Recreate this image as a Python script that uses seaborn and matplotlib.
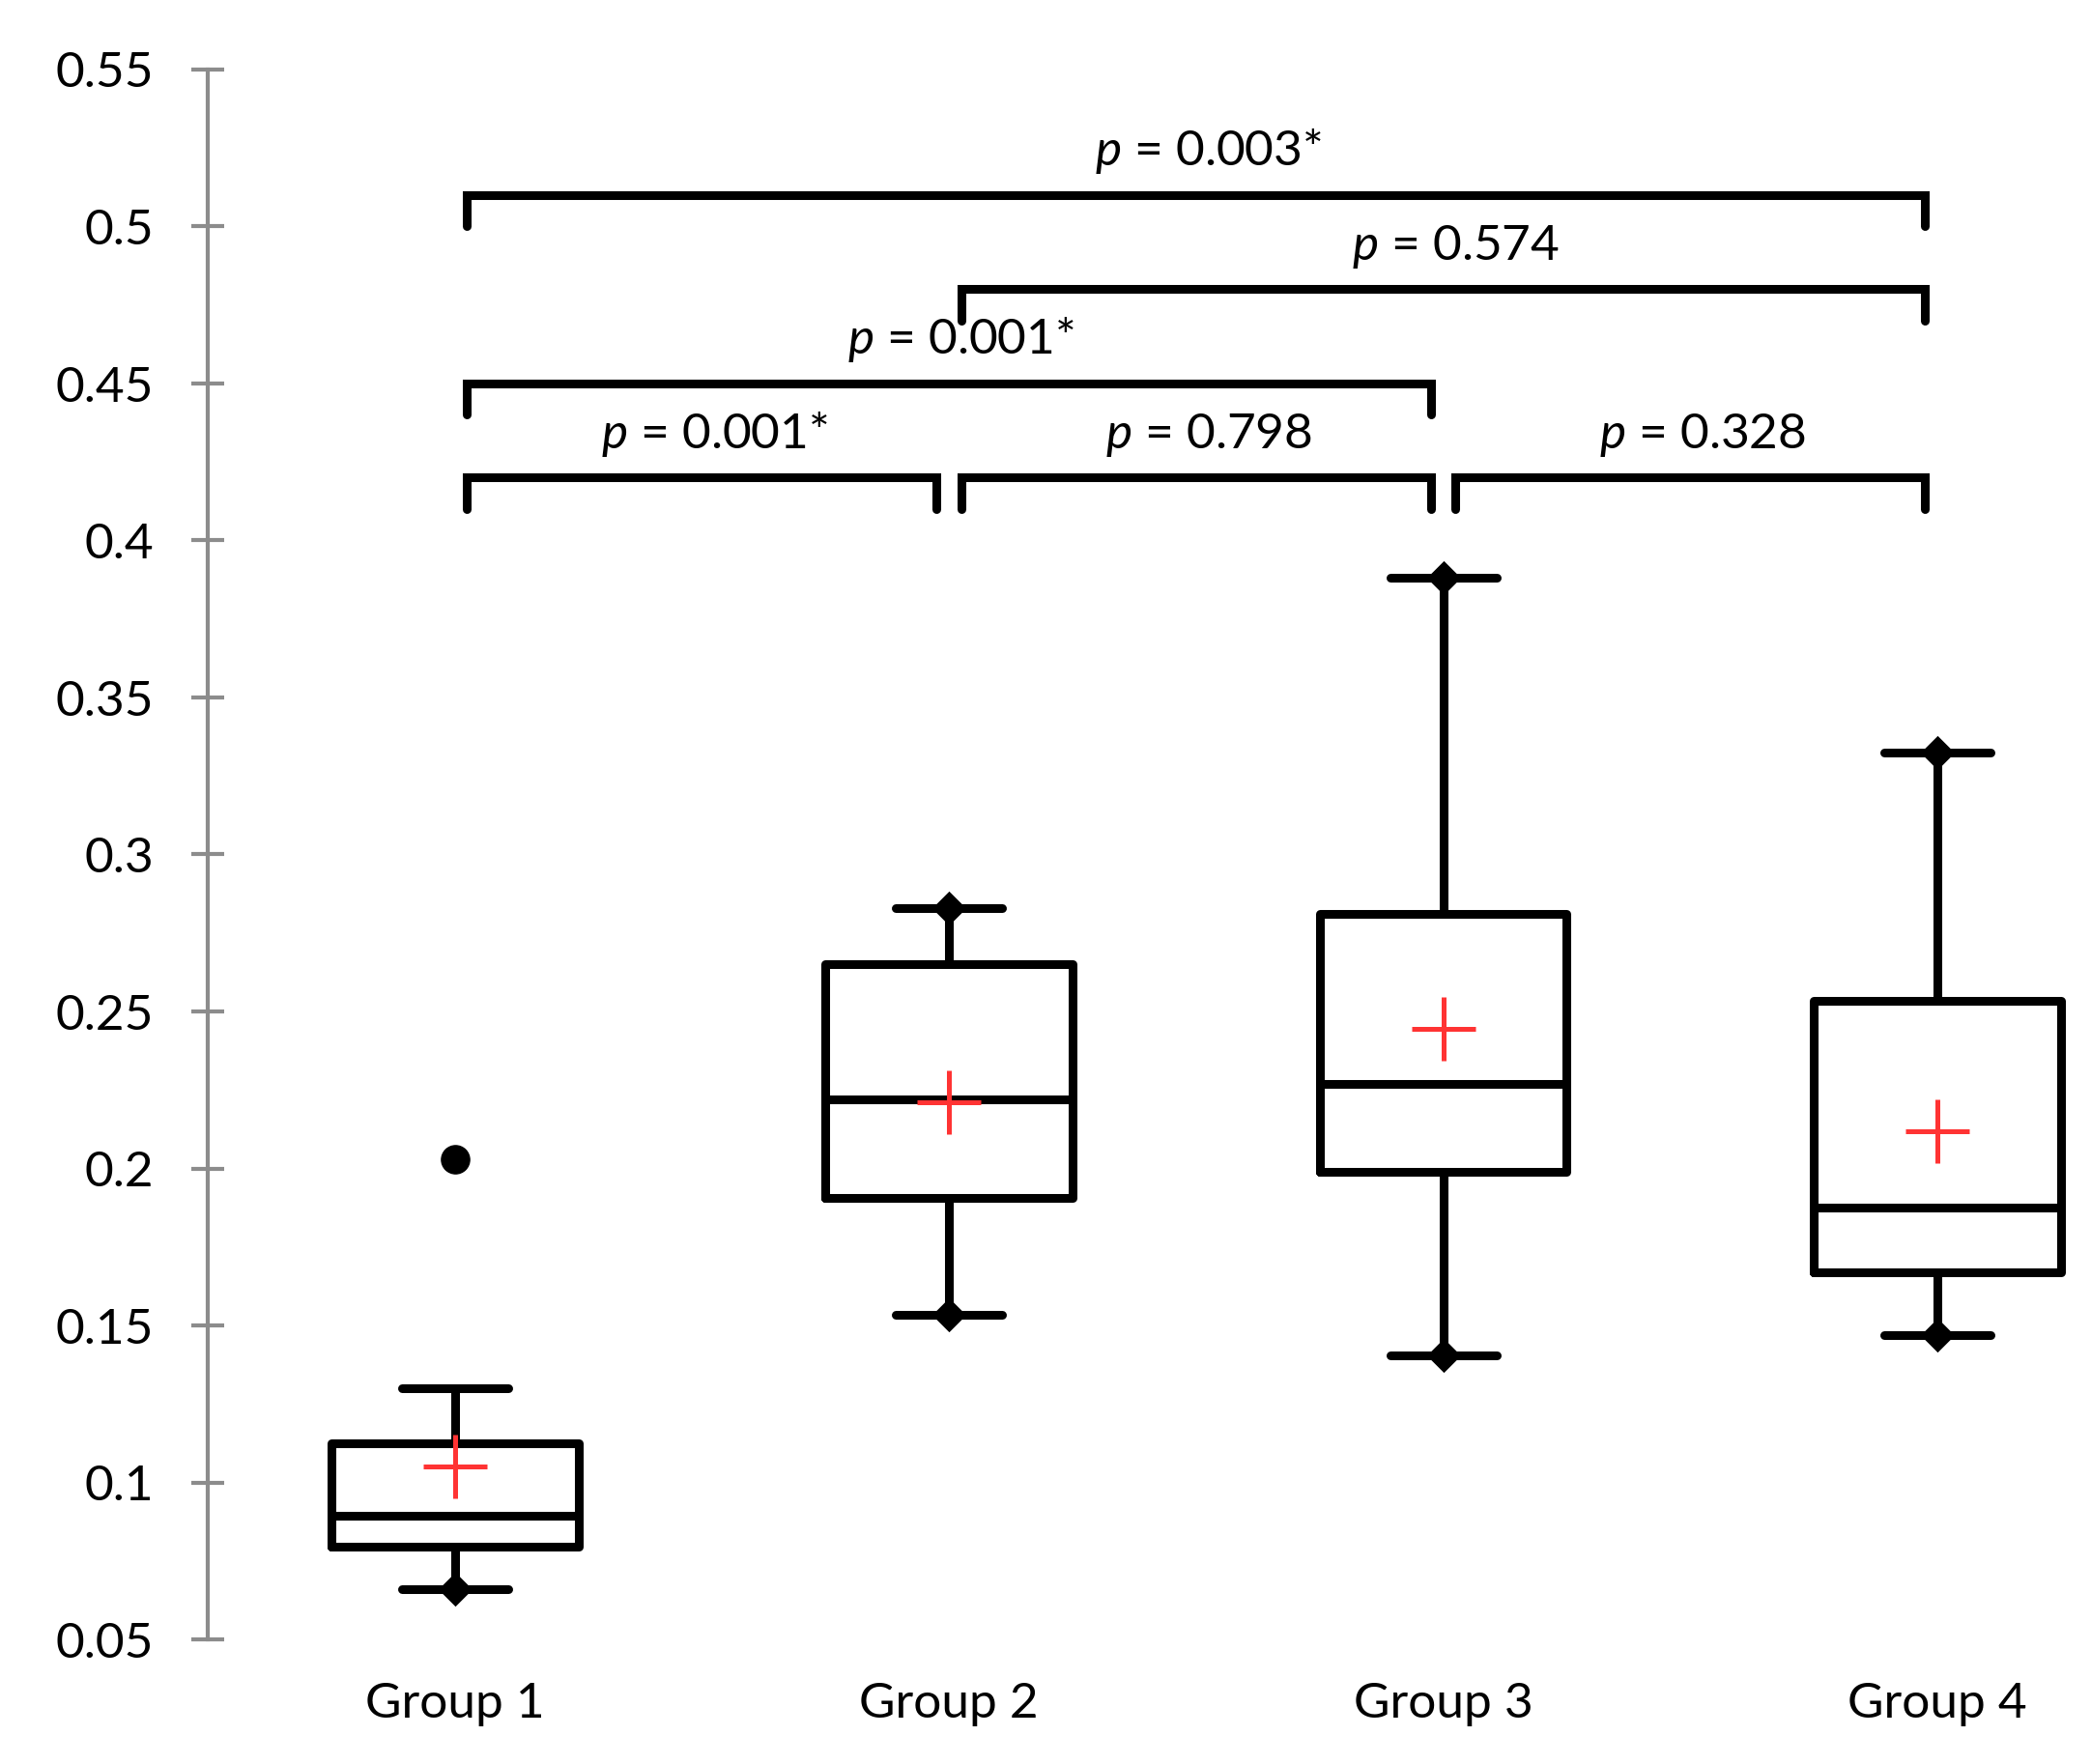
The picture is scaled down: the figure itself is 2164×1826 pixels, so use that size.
import pandas as pd
import seaborn as sns
from matplotlib import pyplot as plt

# values
groups = ["Group 1", "Group 2", "Group 3", "Group 4"]
mins = [0.066, 0.1535, 0.1405, 0.147]
q1s = [0.0795, 0.1905, 0.199, 0.1668]
medians = [0.0895, 0.222, 0.227, 0.1875]
q3s = [0.1125, 0.265, 0.281, 0.2535]
maxs = [0.130, 0.283, 0.388, 0.3325]
means = [0.105, 0.221, 0.2445, 0.212]
outliers = [0.203, None, None, None]

# pairwise comparisons: (group a, group b), bracket height, p value
pairs = [(0, 1), (1, 2), (2, 3), (0, 2), (1, 3), (0, 3)]
pair_heights = [0.42, 0.42, 0.42, 0.45, 0.48, 0.51]
p_values = ["0.001*", "0.798", "0.328", "0.001*", "0.574", "0.003*"]

y_ticks = [0.05, 0.1, 0.15, 0.2, 0.25, 0.3, 0.35, 0.4, 0.45, 0.5, 0.55]
y_tick_labels = ["0.05", "0.1", "0.15", "0.2", "0.25", "0.3", "0.35", "0.4", "0.45", "0.5", "0.55"]


def main():
    sns.set_style("white", {"text.color": "black", "xtick.color": "black", "ytick.color": "black"})
    plt.rcParams["font.family"] = ["Lato", "DejaVu Sans"]
    plt.rcParams["mathtext.fontset"] = "custom"
    plt.rcParams["mathtext.rm"] = "Lato"
    plt.rcParams["mathtext.it"] = "Lato:italic"

    # rebuild sample points that give exactly the read quartiles / whiskers
    rows = []
    for g, lo, q1, med, q3, hi, out in zip(groups, mins, q1s, medians, q3s, maxs, outliers):
        if out is None:
            vals = [lo, q1, q1, med, q3, q3, hi]
        else:
            vals = [lo, q1, q1, med, med, q3, q3, hi, out]
        rows += [(g, v) for v in vals]
    df = pd.DataFrame(rows, columns=["group", "value"])

    fig = plt.figure(figsize=(21.64, 18.26), dpi=100)
    ax = fig.add_axes([215 / 2164, 1 - 1697 / 1826, 1 - 215 / 2164, (1697 - 72) / 1826])

    sns.boxplot(
        data=df, x="group", y="value", order=groups, width=0.5, whis=1.5,
        fill=False, color="black", linewidth=6.5, capwidths=0.215,
        flierprops=dict(marker="o", markerfacecolor="black", markeredgecolor="black", markersize=21),
        ax=ax,
    )

    high_marks = [m if o is None else None for m, o in zip(maxs, outliers)]
    sns.stripplot(x=groups, y=mins, order=groups, jitter=False, marker="D", size=18,
                  color="black", linewidth=0, zorder=5, ax=ax)
    sns.stripplot(x=groups, y=high_marks, order=groups, jitter=False, marker="D", size=18,
                  color="black", linewidth=0, zorder=5, ax=ax)
    sns.stripplot(x=groups, y=means, order=groups, jitter=False, marker="+", size=48,
                  linewidth=3.6, color="#ff3333", zorder=6, ax=ax)

    for (a, b), h, p in zip(pairs, pair_heights, p_values):
        x0, x1 = a + 0.025, b - 0.025
        ax.plot([x0, x0, x1, x1], [h - 0.01, h, h, h - 0.01], color="black", lw=6.5,
                solid_joinstyle="miter", solid_capstyle="round", clip_on=False)
        ax.text((a + b) / 2 + 0.025, h + 0.0095, f"$p$ = {p}", ha="center", va="baseline",
                fontsize=37, color="black")

    ax.set_xlim(-0.5, 3.311)
    ax.set_ylim(0.05, 0.55)
    ax.set_yticks(y_ticks)
    ax.set_yticklabels(y_tick_labels)
    ax.set_xlabel("")
    ax.set_ylabel("")

    for side in ["top", "right", "bottom"]:
        ax.spines[side].set_visible(False)
    ax.spines["left"].set_color("#8c8c8c")
    ax.spines["left"].set_linewidth(3)

    ax.tick_params(axis="y", direction="inout", length=24, width=3, color="#8c8c8c",
                   labelcolor="black", labelsize=37, pad=28, left=True)
    ax.tick_params(axis="x", length=0, labelcolor="black", labelsize=37, pad=32)

    fig.savefig("out.png", dpi=100)


if __name__ == "__main__":
    main()
